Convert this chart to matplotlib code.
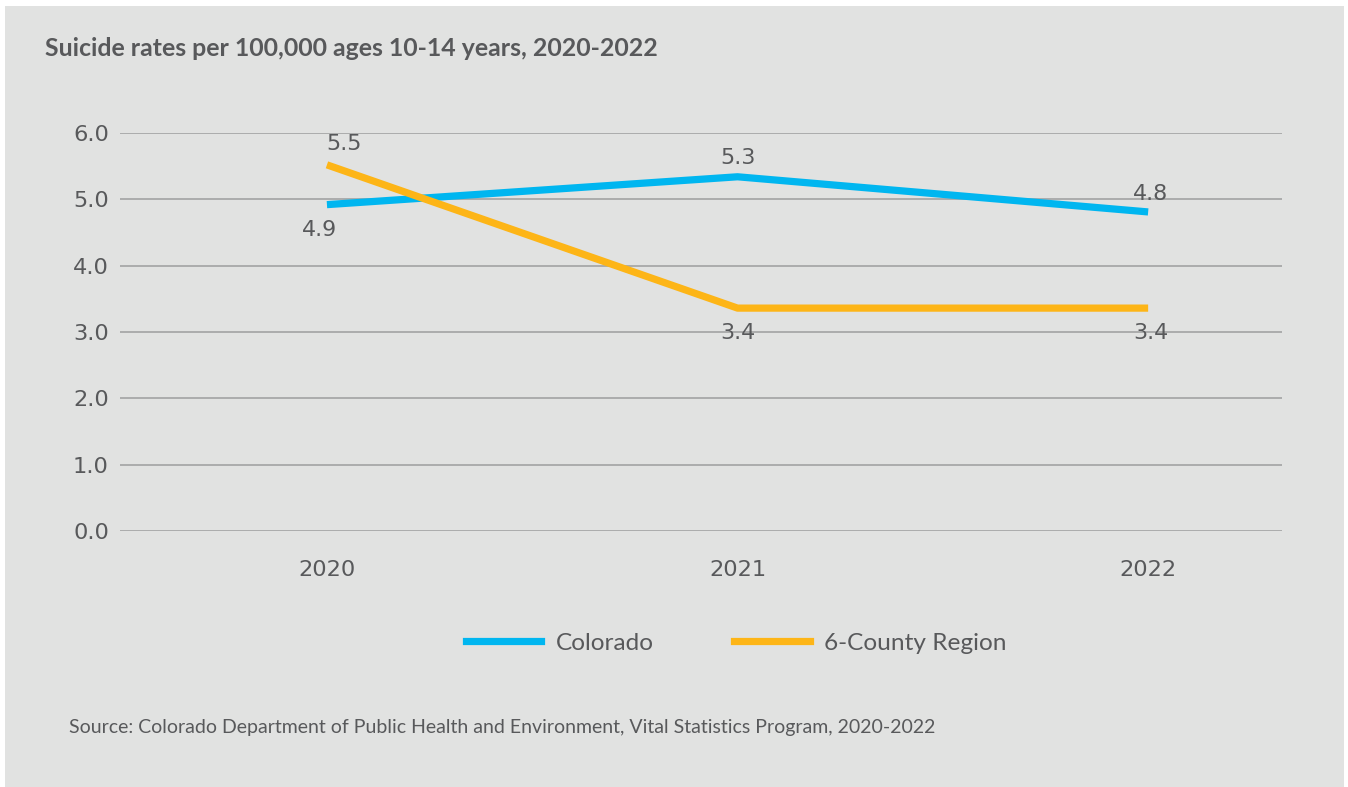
import matplotlib
matplotlib.use("Agg")
import matplotlib.pyplot as plt
from matplotlib.patches import Rectangle
from matplotlib.lines import Line2D

# data
years = ["2020", "2021", "2022"]
colorado = [4.92, 5.34, 4.81]
region = [5.52, 3.36, 3.36]
colorado_labels = ["4.9", "5.3", "4.8"]
region_labels = ["5.5", "3.4", "3.4"]
yticks = [0.0, 1.0, 2.0, 3.0, 4.0, 5.0, 6.0]

blue = "#00B6F0"
orange = "#FDB517"
bg = "#E1E2E1"
txt = "#58595B"
grid = "#A7A8A8"

W, H = 1348, 787
fig = plt.figure(figsize=(W / 100, H / 100), dpi=100, facecolor="white")
fig.patches.append(Rectangle((5 / W, 0), (1344 - 5) / W, (787 - 6) / H,
                             transform=fig.transFigure, facecolor=bg,
                             edgecolor="none", zorder=-10))

ax = fig.add_axes([120 / W, (H - 531) / H, (1282 - 120) / W, (531 - 133) / H])
ax.set_facecolor("none")
x = list(range(len(years)))

ax.plot(x, colorado, color=blue, lw=5.2, solid_capstyle="butt", zorder=3)
ax.plot(x, region, color=orange, lw=5.2, solid_capstyle="butt", zorder=3)

ax.set_xlim(-0.504, 2.326)
ax.set_ylim(0, 6)
ax.set_yticks(yticks)
ax.set_yticklabels([f"{v:.1f}" for v in yticks])
ax.set_xticks(x)
ax.set_xticklabels(years)
ax.tick_params(axis="both", length=0, labelsize=16.2, labelcolor=txt)
ax.tick_params(axis="y", pad=8)
ax.tick_params(axis="x", pad=21)
for s in ax.spines.values():
    s.set_visible(False)
ax.yaxis.grid(True, color=grid, lw=1.3)
ax.set_axisbelow(True)

# value labels (above / below as in the original)
col_off = [(-7, -25), (0, 19), (2, 18)]
reg_off = [(17, 21), (0, -25), (3, -25)]
for i in x:
    ax.annotate(colorado_labels[i], (x[i], colorado[i]), xytext=col_off[i],
                textcoords="offset pixels", ha="center", va="center",
                fontsize=16, color=txt)
    ax.annotate(region_labels[i], (x[i], region[i]), xytext=reg_off[i],
                textcoords="offset pixels", ha="center", va="center",
                fontsize=16, color=txt)

fig.text(45 / W, 1 - 48 / H, "Suicide rates per 100,000 ages 10-14 years, 2020-2022",
         fontsize=17.9, fontweight="bold", family="Lato", color=txt,
         ha="left", va="center")

handles = [Line2D([], [], color=blue, lw=5.2), Line2D([], [], color=orange, lw=5.2)]
fig.legend(handles, ["Colorado", "6-County Region"], loc="center",
           bbox_to_anchor=(736 / W, 1 - 643 / H), ncol=2, frameon=False,
           prop={"family": "Lato", "size": 17.6}, labelcolor=txt,
           handlelength=3.1, handletextpad=0.57, columnspacing=3.3)

fig.text(69 / W, 1 - 727 / H,
         "Source: Colorado Department of Public Health and Environment, Vital Statistics Program, 2020-2022",
         fontsize=14, family="Lato", color=txt, ha="left", va="center")

fig.savefig("out.png", dpi=100, facecolor="white")
